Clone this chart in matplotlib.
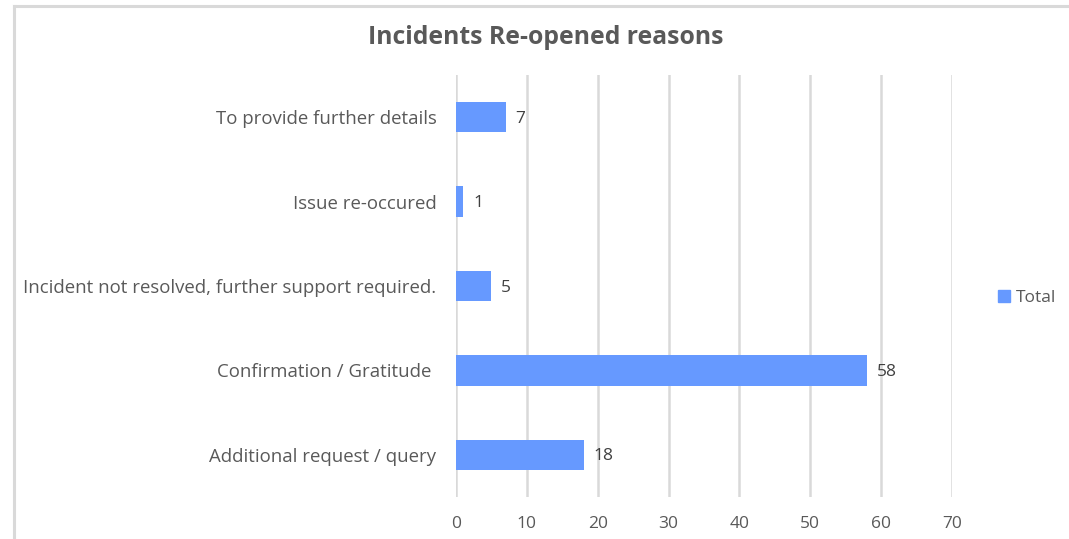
import matplotlib
matplotlib.use("Agg")
import matplotlib.pyplot as plt
from matplotlib.lines import Line2D
from matplotlib.patches import Patch

# re-opened incident reasons, bottom to top
reasons = [
    "Additional request / query",
    "Confirmation / Gratitude ",
    "Incident not resolved, further support required.",
    "Issue re-occured",
    "To provide further details",
]
totals = [18, 58, 5, 1, 7]
xticks = [0, 10, 20, 30, 40, 50, 60, 70]

bar_color = "#6699ff"
text_color = "#595959"
grid_color = "#d9d9d9"

plt.rcParams["font.family"] = ["Open Sans", "DejaVu Sans"]

W, H = 1069, 539
fig = plt.figure(figsize=(W / 100, H / 100), dpi=100)

# chart area border (top and left edges only)
fig.add_artist(Line2D([14 / W, 1], [1 - 6 / H, 1 - 6 / H], color=grid_color, lw=2.2))
fig.add_artist(Line2D([14 / W, 14 / W], [0, 1 - 6 / H], color=grid_color, lw=2.2))

ax = fig.add_axes([456 / W, 1 - 497 / H, (952 - 456) / W, (497 - 75) / H])
ypos = range(len(reasons))
bars = ax.barh(ypos, totals, height=0.36, color=bar_color, zorder=3)

for b, v in zip(bars, totals):
    ax.text(v + 1.4, b.get_y() + b.get_height() / 2 - 0.02, str(v), va="center", ha="left",
            fontsize=12.5, color="#404040")

ax.set_xlim(0, 70)
ax.set_ylim(-0.5, len(reasons) - 0.5)
ax.set_xticks(xticks)
ax.set_yticks(list(ypos))
ax.set_yticklabels(reasons)
ax.tick_params(axis="both", length=0, labelsize=13.4, labelcolor=text_color)
ax.tick_params(axis="x", labelsize=12.5, pad=14)
ax.tick_params(axis="y", pad=14)
ax.grid(axis="x", color=grid_color, lw=1.8, zorder=0)
for s in ax.spines.values():
    s.set_visible(False)

fig.text(546 / W, 1 - 37 / H, "Incidents Re-opened reasons", ha="center", va="center",
         fontsize=17.8, fontweight="bold", color=text_color)

fig.legend(handles=[Patch(color=bar_color, label="Total")], loc="center left",
           bbox_to_anchor=(982 / W, 1 - 298 / H), frameon=False, fontsize=12.5,
           labelcolor=text_color, handlelength=0.7, handleheight=0.7, handletextpad=0.35)

fig.savefig("out.png", dpi=100, facecolor="white")
